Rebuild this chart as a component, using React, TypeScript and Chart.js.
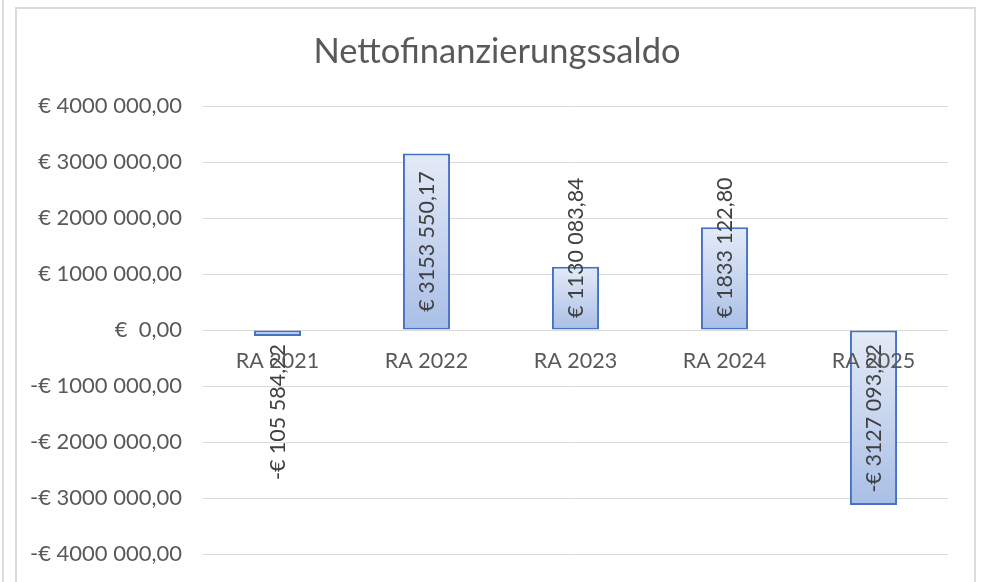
import React, { useEffect, useRef } from "react";
import { Chart, registerables } from "chart.js";

Chart.register(...registerables);

const chartTitle = "Nettofinanzierungssaldo";
const categories = ["RA 2021", "RA 2022", "RA 2023", "RA 2024", "RA 2025"];
const values = [-105584.22, 3153550.17, 1130083.84, 1833122.8, -3127093.22];
const axisMin = -4000000;
const axisMax = 4000000;
const axisStep = 1000000;

const FONT = "Lato, 'Open Sans', sans-serif";

function formatEuro(v: number): string {
  const abs = Math.abs(v);
  if (abs < 0.005) return "€  0,00";
  const [intPart, dec] = abs.toFixed(2).split(".");
  const intStr = intPart.length > 3 ? intPart.slice(0, -3) + " " + intPart.slice(-3) : intPart;
  return (v < 0 ? "-€ " : "€ ") + intStr + "," + dec;
}

const barLabelPlugin = {
  id: "barLabels",
  afterDatasetsDraw(chart: any) {
    const { ctx } = chart;
    const meta = chart.getDatasetMeta(0);
    const y0 = chart.scales.y.getPixelForValue(0);
    ctx.save();
    ctx.font = `21.5px ${FONT}`;
    ctx.fillStyle = "#404040";
    ctx.textAlign = "center";
    ctx.textBaseline = "middle";
    meta.data.forEach((el: any, i: number) => {
      const v = values[i];
      const text = formatEuro(v);
      const w = ctx.measureText(text).width;
      let c = (el.y + el.base) / 2;
      if (v >= 0) {
        if (c + w / 2 > y0 - 12) c = y0 - 12 - w / 2;
      } else {
        if (c - w / 2 < y0 + 14) c = y0 + 14 + w / 2;
      }
      ctx.save();
      ctx.translate(el.x + 1, c);
      ctx.rotate(-Math.PI / 2);
      ctx.fillText(text, 0, 0);
      ctx.restore();
    });
    ctx.restore();
  },
};

export default function App() {
  const canvasRef = useRef<HTMLCanvasElement | null>(null);

  useEffect(() => {
    if (!canvasRef.current) return;
    const chart = new Chart(canvasRef.current, {
      type: "bar",
      data: {
        labels: categories,
        datasets: [
          {
            data: values,
            backgroundColor: (ctx: any) => {
              const ch = ctx.chart;
              const ys = ch.scales && ch.scales.y;
              if (!ys || ctx.type !== "data") return "#c8d6ef";
              const p1 = ys.getPixelForValue(ctx.raw);
              const p0 = ys.getPixelForValue(0);
              const top = Math.min(p1, p0);
              const bot = Math.max(p1, p0);
              if (!isFinite(top) || !isFinite(bot) || bot - top < 1) return "#c8d6ef";
              const g = ch.ctx.createLinearGradient(0, top, 0, bot);
              g.addColorStop(0, "#e4ebf7");
              g.addColorStop(1, "#a9bfe6");
              return g;
            },
            borderColor: "#4472c4",
            borderWidth: 2,
            borderSkipped: false,
            categoryPercentage: 1,
            barPercentage: 0.316,
          },
        ],
      },
      options: {
        responsive: true,
        maintainAspectRatio: false,
        animation: false,
        layout: { padding: { left: 46, right: 34, top: 8, bottom: 28 } },
        plugins: {
          legend: { display: false },
          tooltip: { enabled: false },
          title: {
            display: true,
            text: chartTitle,
            color: "#595959",
            font: { family: FONT, size: 34.5, weight: "normal" },
            padding: { top: 23.5, bottom: 33.1 },
          },
        },
        scales: {
          x: {
            position: { y: 0 } as any,
            grid: { display: false, drawTicks: false },
            border: { display: false },
            ticks: {
              z: 1,
              color: "#595959",
              font: { family: FONT, size: 21.5 },
              padding: 18,
              maxRotation: 0,
              autoSkip: false,
            },
            afterFit: (s: any) => {
              s.height = 0;
            },
          },
          y: {
            min: axisMin,
            max: axisMax,
            ticks: {
              stepSize: axisStep,
              color: "#595959",
              font: { family: FONT, size: 22 },
              padding: 21,
              callback: (v: any) => formatEuro(Number(v)),
            },
            grid: { color: "#d9d9d9", lineWidth: 1, drawTicks: false },
            border: { display: false },
            afterFit: (s: any) => {
              s.width = 157;
              s.paddingTop = 0;
              s.paddingBottom = 0;
              s._computeLabelArea = () => undefined;
            },
          },
        },
      },
      plugins: [barLabelPlugin],
    });
    return () => chart.destroy();
  }, []);

  return (
    <div style={{ position: "fixed", left: 0, top: 0, width: 982, height: 582, background: "#fff", overflow: "hidden" }}>
      <div style={{ position: "absolute", left: 2, top: 0, width: 0, height: 582, borderLeft: "2px solid #dcdcdc" }} />
      <div style={{ position: "absolute", left: 15, top: 7, width: 961, height: 620, border: "2px solid #dcdcdc", boxSizing: "border-box" }} />
      <canvas ref={canvasRef} style={{ position: "absolute", left: 0, top: 0 }} />
    </div>
  );
}
